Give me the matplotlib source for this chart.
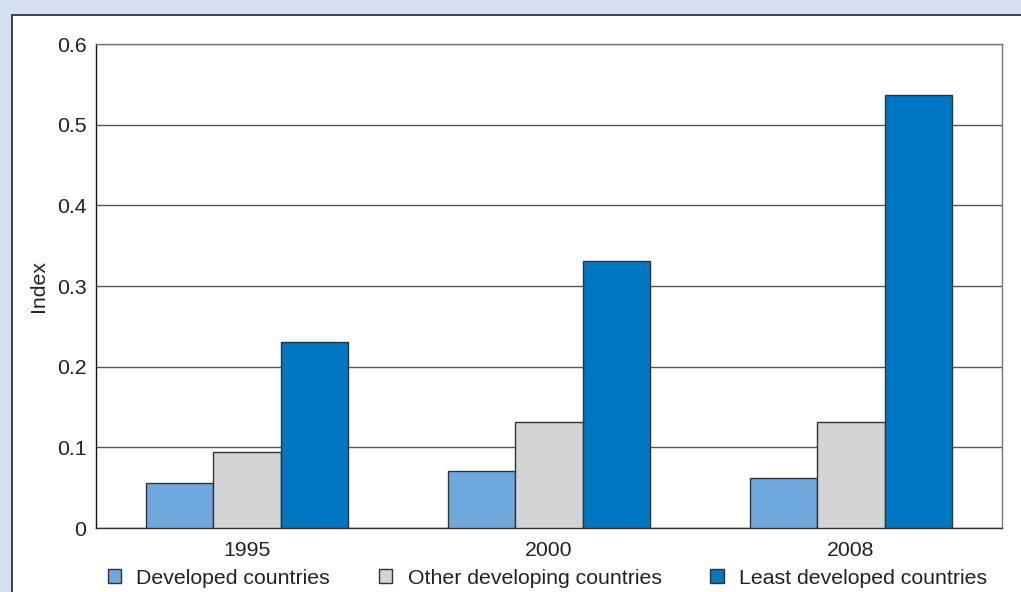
import matplotlib.pyplot as plt
from matplotlib.patches import Rectangle
import numpy as np

plt.rcParams['font.family'] = ['Liberation Sans', 'DejaVu Sans']

years = ['1995', '2000', '2008']
series = ['Developed countries', 'Other developing countries', 'Least developed countries']
developed = [0.056, 0.071, 0.062]
other_dev = [0.094, 0.131, 0.131]
least_dev = [0.231, 0.331, 0.537]
colors = ['#6fa8dc', '#d3d4d6', '#0077c2']

W, H = 1021, 592
fig = plt.figure(figsize=(W / 100, H / 100), dpi=100)
fig.patch.set_facecolor('#d4e0f0')

# white panel with dark border (runs off the right and bottom edges)
fig.patches.append(Rectangle((12 / W, -0.05), 1.1, 1 - 15 / H + 0.05,
                             transform=fig.transFigure, facecolor='white',
                             edgecolor='#333333', linewidth=1.3, zorder=-5))

ax = fig.add_axes([96 / W, 1 - 528 / H, (1002 - 96) / W, (528 - 44) / H])
ax.set_zorder(2)
ax.patch.set_alpha(0)
x = np.arange(len(years)) + 0.5
w = 0.222
for i, vals in enumerate([developed, other_dev, least_dev]):
    ax.bar(x + (i - 1) * w, vals, w, color=colors[i], edgecolor='#333333',
           linewidth=1, label=series[i], zorder=3)

fs = 15.3
ax.set_xlim(0, 3)
ax.set_ylim(0, 0.6)
ax.set_yticks([0, 0.1, 0.2, 0.3, 0.4, 0.5, 0.6])
ax.set_yticklabels(['0', '0.1', '0.2', '0.3', '0.4', '0.5', '0.6'])
ax.set_xticks(x)
ax.set_xticklabels(years)
ax.tick_params(axis='y', length=0, labelsize=fs, colors='#222222', pad=7)
ax.tick_params(axis='x', length=0, labelsize=fs, colors='#222222', pad=9)
ax.yaxis.grid(True, color='#555555', linewidth=1, zorder=0)
ax.set_axisbelow(True)
ax.spines['left'].set_color('#111111')
ax.spines['bottom'].set_color('#333333')
ax.spines['top'].set_color('#777777')
ax.spines['right'].set_color('#777777')
for s in ax.spines.values():
    s.set_linewidth(1)
ax.set_ylabel('Index', fontsize=fs, color='#222222', labelpad=6)

fig.legend(loc='center left', bbox_to_anchor=(108 / W, 1 - 578 / H), ncol=3,
           frameon=False, fontsize=fs, handlelength=0.62, handleheight=0.62,
           handletextpad=0.72, columnspacing=2.3, borderpad=0, borderaxespad=0,
           labelcolor='#222222')

fig.savefig('out.png', dpi=100, facecolor=fig.get_facecolor())
